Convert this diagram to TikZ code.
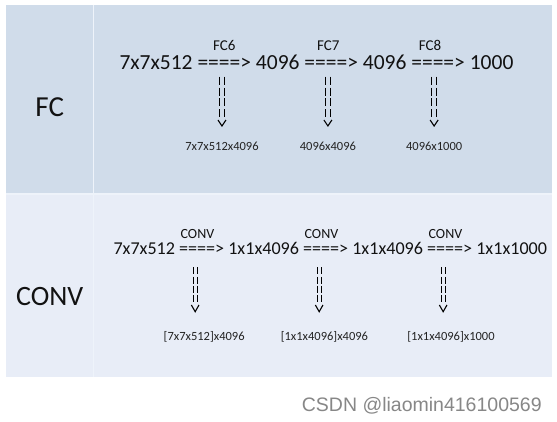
\documentclass[tikz,border=0pt]{standalone}
\usepackage{fontspec}
\setmainfont{Carlito}
\newfontfamily\markfont{Liberation Sans}
\usepackage{tikz}
\usetikzlibrary{positioning}
\usepackage{xcolor}
\definecolor{rowfc}{RGB}{208,220,234}
\definecolor{rowconv}{RGB}{232,237,247}
\definecolor{gridline}{RGB}{238,243,250}
\definecolor{inkdark}{RGB}{18,18,18}
\definecolor{sizegray}{RGB}{35,35,35}
\definecolor{markgray}{RGB}{135,135,135}

\begin{document}
\begin{tikzpicture}[
      x=1pt,y=-1pt,
      node distance=4.9pt,
      every node/.style={inner sep=0pt,outer sep=0pt,text=inkdark},
      bignum/.style={font=\fontsize{21.5}{25}\selectfont},
      midnum/.style={font=\fontsize{18.1}{21}\selectfont},
      layertag/.style={font=\fontsize{15}{18}\selectfont},
      convtag/.style={font=\fontsize{14}{17}\selectfont},
      sizetag/.style={font=\fontsize{12.5}{15}\selectfont,text=sizegray},
      rowname/.style={font=\fontsize{29}{34}\selectfont},
      dashbar/.style={line width=1.2pt,dash pattern=on 8pt off 2.9pt},
      vtip/.style={line width=1.1pt}
    ]
      \useasboundingbox (0,0) rectangle (557,422);
      \fill[white] (0,0) rectangle (557,422);
      % table cells
      \fill[rowfc] (6,5) rectangle (552,194);
      \fill[rowconv] (6,194) rectangle (552,377);
      \draw[gridline,line width=1.6pt] (6,194) -- (552,194);
      \draw[gridline,line width=1.6pt] (93.5,5) -- (93.5,377);
      \node[rowname,anchor=base] (fcname) at (49.75,116.5) {FC};
      \node[rowname,font=\fontsize{28}{33}\selectfont,anchor=base] (convname) at (49.75,305.5) {CONV};

      % FC row
      \node[bignum,anchor=base west] (fin) at (119.5,69.5) {7x7x512};
      \node[bignum,base right=of fin] (fa1) {====>};
      \node[bignum,base right=of fa1] (fo1) {4096};
      \node[bignum,base right=of fo1] (fa2) {====>};
      \node[bignum,base right=of fa2] (fo2) {4096};
      \node[bignum,base right=of fo2] (fa3) {====>};
      \node[bignum,base right=of fa3] (fo3) {1000};
      \foreach \i/\dx/\tag in {1/0/FC6,2/-3/FC7,3/-8/FC8}
        \node[layertag,anchor=base] (fl\i) at ([xshift=\dx pt,yshift=18.8pt]fa\i.base) {\tag};
      \foreach \i/\dx/\size in {1/-2.3/7x7x512x4096,2/-3.3/4096x4096,3/-4/4096x1000} {
        \coordinate (ft\i) at ([xshift=\dx pt,yshift=-7.2pt]fa\i.base);
        \coordinate (fb\i) at ([yshift=-40.6pt]ft\i);
        \coordinate (fv\i) at ([yshift=-49.3pt]ft\i);
        \node[sizetag,anchor=base] (fw\i) at ([yshift=-74.3pt]ft\i) {\size};
        \draw[dashbar] ([xshift=-2.35pt]ft\i) -- ([xshift=-2.35pt]fb\i);
        \draw[dashbar] ([xshift=2.35pt]ft\i) -- ([xshift=2.35pt]fb\i);
        \draw[vtip] ([xshift=-4pt,yshift=6pt]fv\i) -- (fv\i) -- ([xshift=4pt,yshift=6pt]fv\i);
      }

      % CONV row
      \node[midnum,anchor=base west] (cin) at (113.5,254.5) {7x7x512};
      \node[midnum,base right=4.1pt of cin] (ca1) {====>};
      \node[midnum,base right=4.1pt of ca1] (co1) {1x1x4096};
      \node[midnum,base right=4.1pt of co1] (ca2) {====>};
      \node[midnum,base right=4.1pt of ca2] (co2) {1x1x4096};
      \node[midnum,base right=4.1pt of co2] (ca3) {====>};
      \node[midnum,base right=4.1pt of ca3] (co3) {1x1x1000};
      \foreach \i in {1,2,3}
        \node[convtag,anchor=base west] (cl\i) at ([xshift=1.5pt,yshift=16pt]ca\i.base west) {CONV};
      \foreach \i/\lx/\size in {1/2.5/[7x7x512]x4096,2/-1.3/[1x1x4096]x4096,3/1.3/[1x1x4096]x1000} {
        \coordinate (ct\i) at ([xshift=-6.5pt,yshift=-12.8pt]ca\i.base);
        \coordinate (cb\i) at ([yshift=-34.7pt]ct\i);
        \coordinate (cv\i) at ([yshift=-44.4pt]ct\i);
        \node[sizetag,anchor=base] (cw\i) at ([xshift=\lx pt,yshift=-86pt]ca\i.base) {\size};
        \draw[dashbar,line width=1.1pt,dash pattern=on 7pt off 2.2pt] ([xshift=-2pt]ct\i) -- ([xshift=-2pt]cb\i);
        \draw[dashbar,line width=1.1pt,dash pattern=on 7pt off 2.2pt] ([xshift=2pt]ct\i) -- ([xshift=2pt]cb\i);
        \draw[vtip] ([xshift=-3.8pt,yshift=6.7pt]cv\i) -- (cv\i) -- ([xshift=3.8pt,yshift=6.7pt]cv\i);
      }

      \node[font=\markfont\fontsize{19.5}{22}\selectfont,text=markgray,anchor=base east] (mark) at (541.7,411.7) {CSDN @liaomin416100569};
    \end{tikzpicture}
\end{document}
